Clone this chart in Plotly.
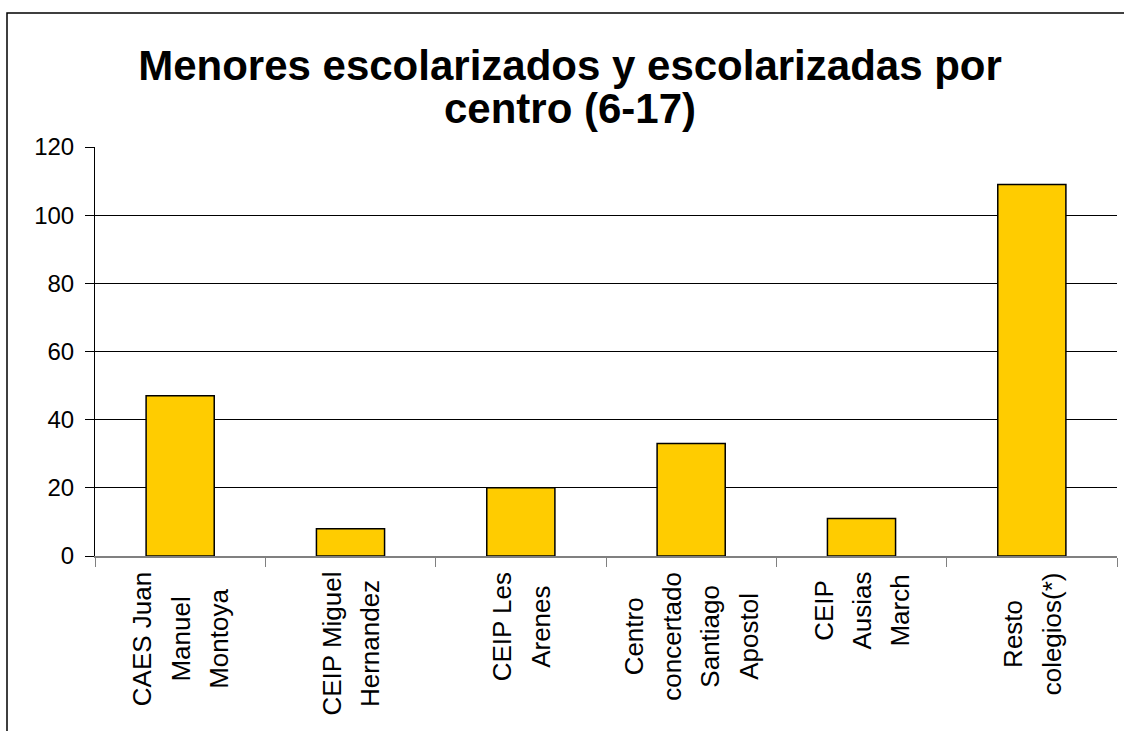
import plotly.graph_objects as go

# ---- data ----
categories = [
    "CAES Juan Manuel Montoya",
    "CEIP Miguel Hernandez",
    "CEIP Les Arenes",
    "Centro concertado Santiago Apostol",
    "CEIP Ausias March",
    "Resto colegios(*)",
]
label_lines = [
    ["CAES Juan", "Manuel", "Montoya"],
    ["CEIP Miguel", "Hernandez"],
    ["CEIP Les", "Arenes"],
    ["Centro", "concertado", "Santiago", "Apostol"],
    ["CEIP", "Ausias", "March"],
    ["Resto", "colegios(*)"],
]
values = [47, 8, 20, 33, 11, 109]
y_ticks = [0, 20, 40, 60, 80, 100, 120]

FONT = "Arial, Liberation Sans, sans-serif"
W, H = 1124, 731
ML, MR, MT, MB = 95, 7, 147, 175

fig = go.Figure()
fig.add_trace(go.Bar(
    x=categories, y=values,
    marker=dict(color="#FFCC00", line=dict(color="#000000", width=1.5)),
    width=0.4, hoverinfo="x+y",
))

# category labels: rotated, lines centred, anchored just under the axis
for cat, lines in zip(categories, label_lines):
    txt = "<br>".join(f"<span style='font-size:26px'>{ln}</span>" for ln in lines)
    fig.add_annotation(
        x=cat, xref="x", y=0, yref="paper", yshift=-14,
        text=txt, textangle=-90, align="center",
        xanchor="center", yanchor="top", showarrow=False,
        font=dict(family=FONT, size=29.5, color="#000000"),
    )

# outer frame of the chart area (pixel positions converted to paper units)
pw, ph = W - ML - MR, H - MT - MB
def px_x(p):
    return (p - ML) / pw
def px_y(p):
    return (H - MB - p) / ph
fig.add_shape(type="rect", xref="paper", yref="paper",
              x0=px_x(7), x1=px_x(1140), y0=px_y(13), y1=px_y(760),
              line=dict(color="#000000", width=1.5), fillcolor="rgba(0,0,0,0)",
              layer="below")

title_txt = ("<span style='font-size:42px'>Menores escolarizados y escolarizadas por</span><br>"
             "<span style='font-size:42px'>centro (6-17)</span>")

fig.update_layout(
    width=W, height=H,
    margin=dict(l=ML, r=MR, t=MT, b=MB),
    paper_bgcolor="#FFFFFF", plot_bgcolor="#FFFFFF",
    showlegend=False, bargap=0.6,
    title=dict(text="<b>" + title_txt + "</b>", x=570 / W, xanchor="center",
               xref="container", y=1 - 80 / H, yanchor="top", yref="container",
               font=dict(family=FONT, size=33, color="#000000")),
    font=dict(family=FONT, color="#000000"),
)
fig.update_xaxes(
    type="category", showticklabels=False, ticks="outside", tickson="boundaries",
    ticklen=9, tickcolor="#808080", tickwidth=1,
    showline=True, linecolor="#808080", linewidth=1.5,
    showgrid=False, zeroline=False,
)
fig.update_yaxes(
    range=[0, 120], tickvals=y_ticks, ticks="outside", ticklen=9,
    tickcolor="#000000", tickwidth=1,
    showline=True, linecolor="#000000", linewidth=1,
    showgrid=True, gridcolor="#000000", gridwidth=1,
    zeroline=False, ticklabelstandoff=6,
    tickfont=dict(family=FONT, size=24, color="#000000"),
)

fig.write_html("out.html", config={"displayModeBar": False},
               post_script="document.body.style.margin='0';")
